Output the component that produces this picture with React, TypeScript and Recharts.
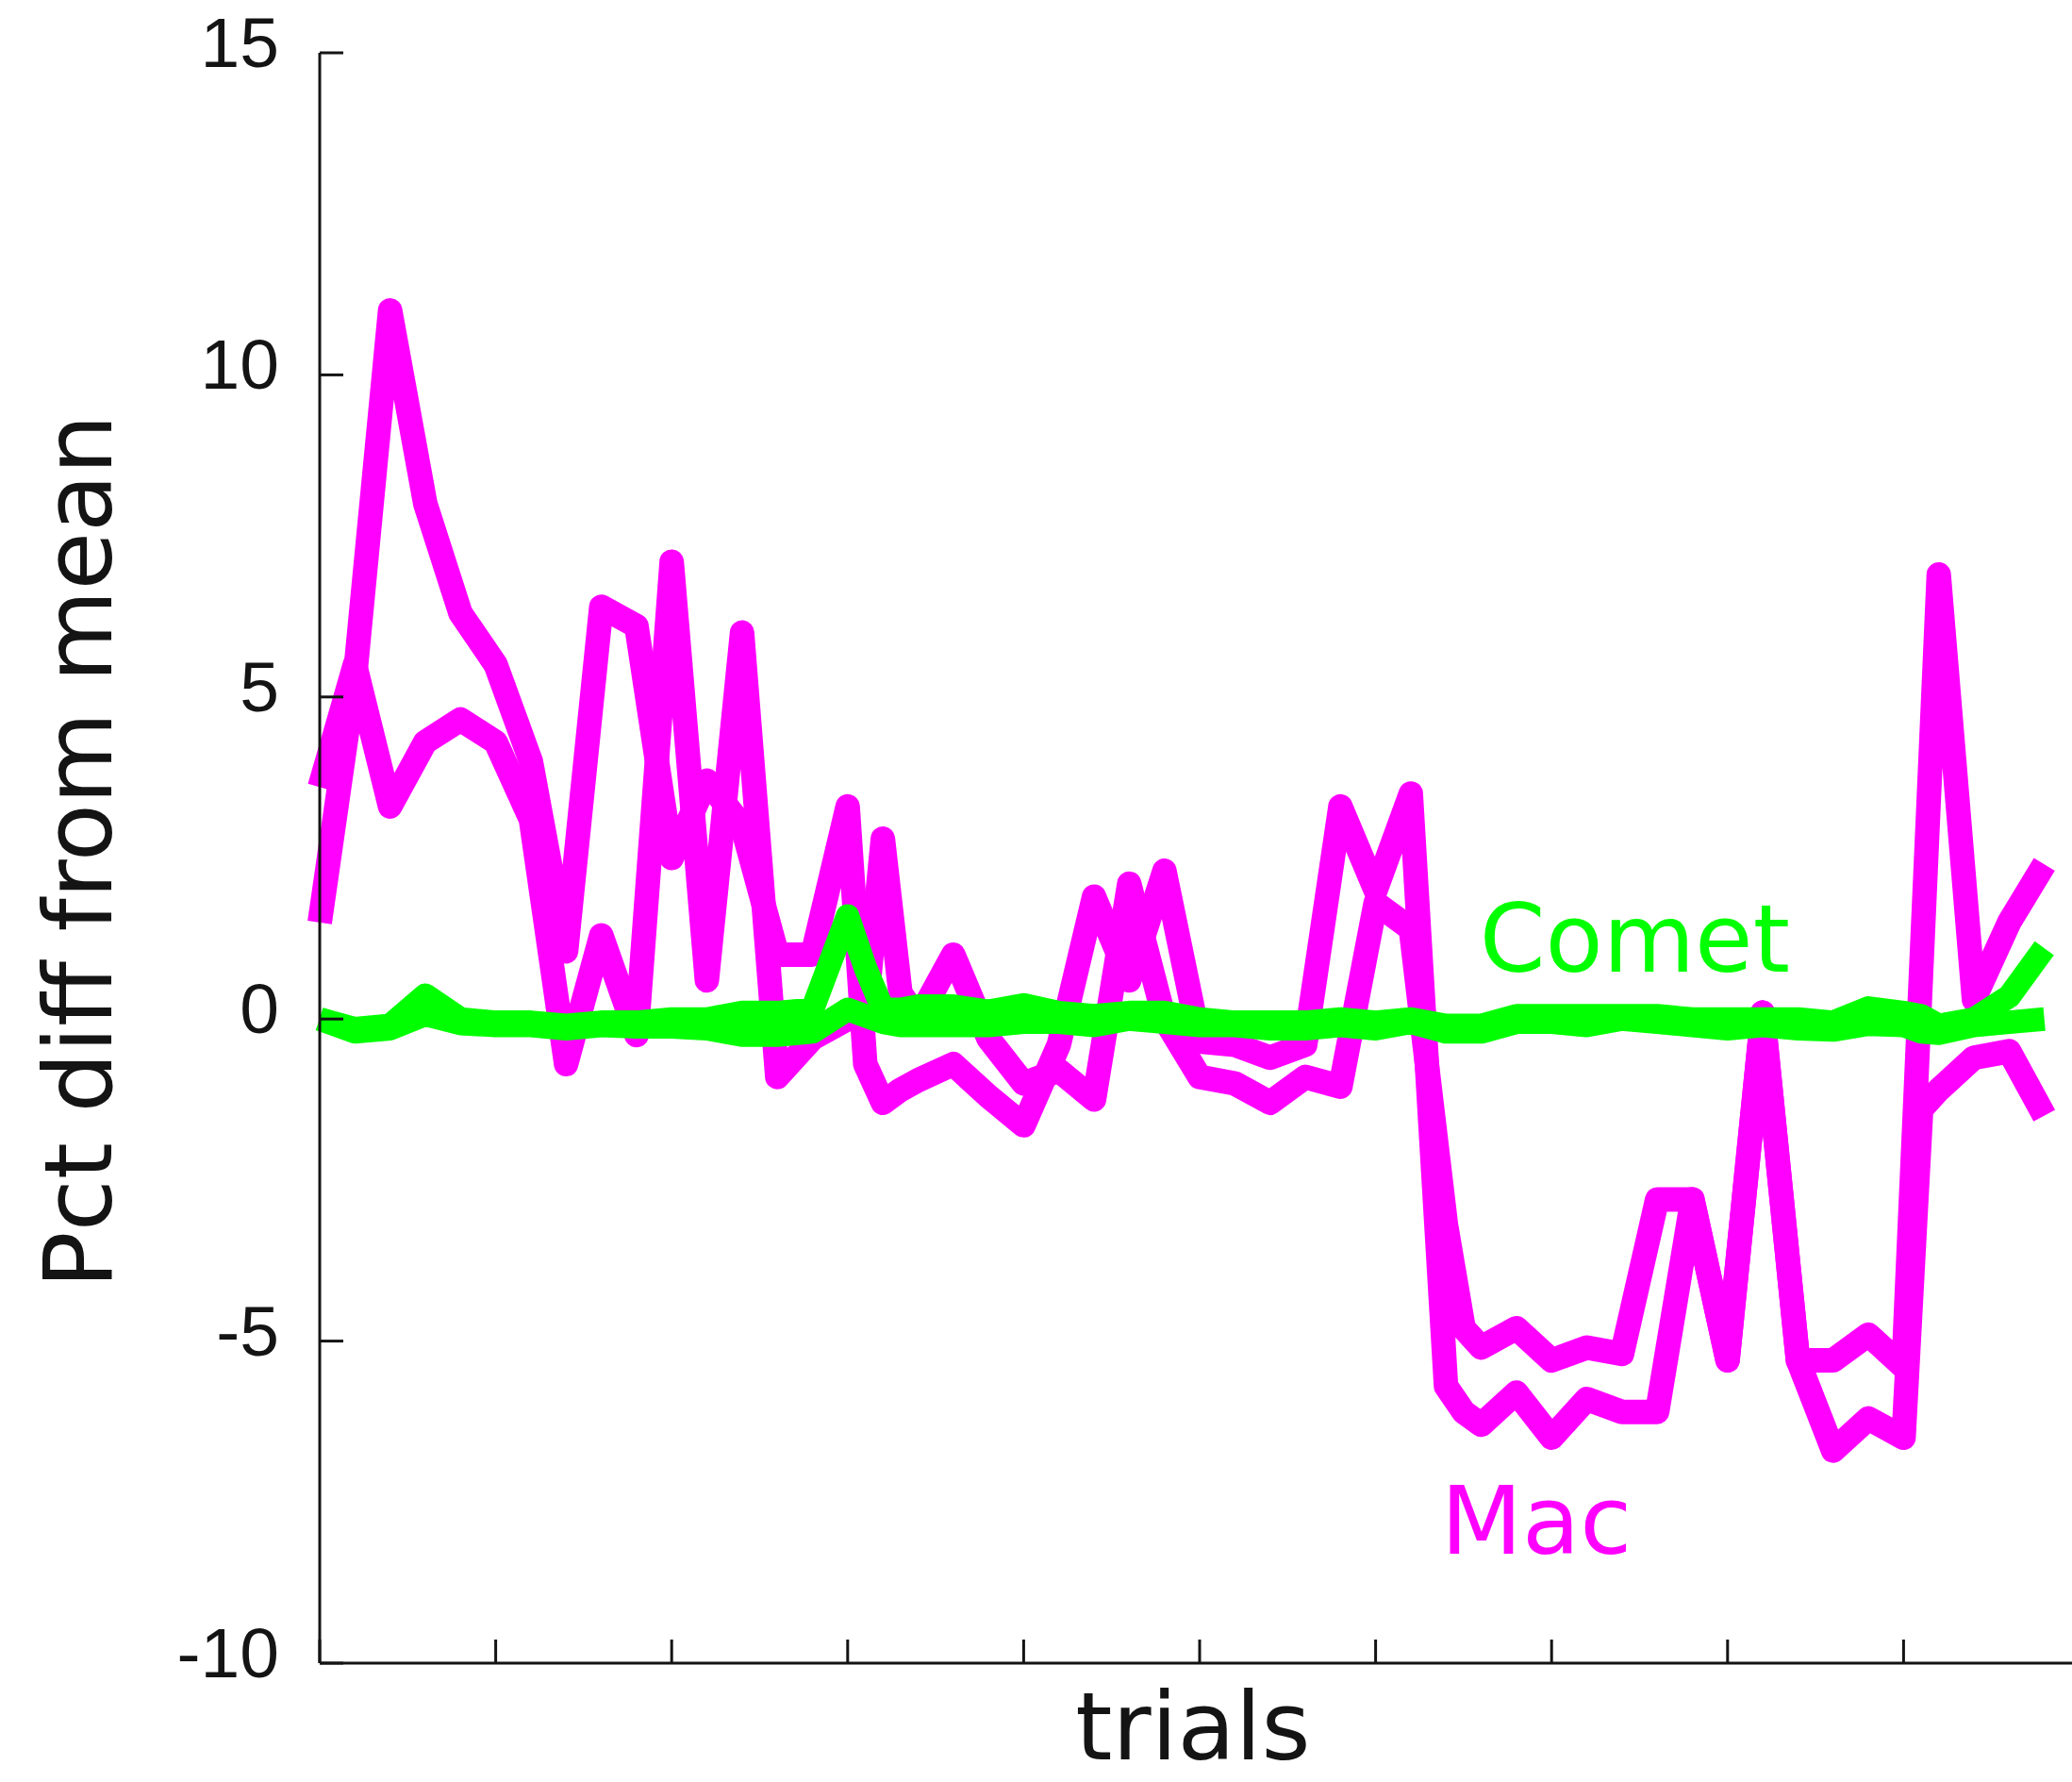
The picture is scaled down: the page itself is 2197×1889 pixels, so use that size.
import { LineChart, Line, XAxis, YAxis, ReferenceDot } from 'recharts'

// trial index (mostly every second trial, a few extra where the runs jump)
const trials = [
  0, 2, 4, 6, 8, 10, 12, 14, 16, 18,
  20, 22, 24, 26, 28, 30, 31, 32, 33, 34,
  36, 38, 40, 42, 44, 46, 48, 50, 52, 54,
  56, 58, 60, 62, 64, 65, 66, 68, 70, 72,
  74, 76, 78, 80, 82, 84, 86, 88, 90, 91,
  92, 94, 96, 98,
]

// Mac, two runs
const macRunA = [
  3.6, 5.5, 3.3, 4.3, 4.65, 4.3, 3.1, -0.7, 1.3, -0.25,
  7.1, 0.6, 6.0, -0.9, -0.3, 0.0, 0.0, 2.8, 0.4, 0.0,
  1.0, -0.3, -1.0, -0.8, -1.25, 2.1, 0.0, -0.9, -1.0, -1.3,
  -0.9, -1.05, 1.8, 1.4, -3.2, -4.8, -5.1, -4.8, -5.3, -5.1,
  -5.2, -2.8, -2.8, -5.3, 0.1, -5.3, -5.3, -4.9, -5.4, 0.75,
  6.9, 0.3, 1.5, 2.4,
]
const macRunB = [
  1.5, 5.3, 11.0, 8.0, 6.3, 5.5, 4.0, 1.05, 6.4, 6.1,
  2.5, 3.7, 3.0, 1.0, 1.0, 3.3, -0.7, -1.3, -1.1, -0.95,
  -0.7, -1.2, -1.65, -0.4, 1.9, 0.6, 2.3, -0.35, -0.4, -0.6,
  -0.4, 3.3, 2.0, 3.5, -5.7, -6.1, -6.3, -5.8, -6.5, -5.9,
  -6.1, -6.1, -2.8, -5.3, 0.1, -5.3, -6.7, -6.2, -6.5, -1.4,
  -1.1, -0.6, -0.5, -1.5,
]

// Comet, two runs
const cometRunA = [
  0.0, -0.15, -0.1, 0.37, 0.0, -0.05, -0.05, -0.1, -0.05, -0.05,
  0.0, 0.0, 0.1, 0.1, 0.15, 1.6, 0.8, 0.15, 0.15, 0.2,
  0.2, 0.12, 0.22, 0.1, 0.05, 0.1, 0.1, 0.0, -0.05, -0.05,
  -0.05, 0.0, -0.05, 0.0, -0.1, -0.1, -0.1, 0.05, 0.05, 0.05,
  0.05, 0.05, 0.0, 0.0, 0.0, 0.0, -0.05, 0.17, 0.1, 0.05,
  -0.1, 0.0, 0.35, 1.1,
]
const cometRunB = [
  0.0, -0.2, -0.15, 0.07, -0.07, -0.1, -0.1, -0.15, -0.1, -0.12,
  -0.12, -0.15, -0.25, -0.25, -0.2, 0.15, 0.05, -0.05, -0.1, -0.1,
  -0.1, -0.1, -0.05, -0.05, -0.1, 0.0, -0.05, -0.1, -0.1, -0.15,
  -0.15, -0.1, -0.15, -0.05, -0.2, -0.2, -0.2, -0.05, -0.05, -0.1,
  0.0, -0.05, -0.1, -0.15, -0.1, -0.15, -0.17, -0.08, -0.1, -0.2,
  -0.22, -0.1, -0.05, 0.0,
]

const yTicks = [-10, -5, 0, 5, 10, 15]
const xTicks = [0, 10, 20, 30, 40, 50, 60, 70, 80, 90, 100]

const MAGENTA = '#ff00ff'
const GREEN = '#00ff00'
const INK = '#141414'

const data = trials.map((t, i) => ({
  trial: t,
  macA: macRunA[i],
  macB: macRunB[i],
  cometA: cometRunA[i],
  cometB: cometRunB[i],
}))

const YTick = ({ x, y, payload }: any) => (
  <text x={x} y={y + 15} textAnchor="end" fontFamily="'Liberation Sans', Arial, sans-serif" fontSize={75} fill={INK}>
    {payload.value}
  </text>
)

// x ticks carry no labels, only the marks
const NoLabel = () => <g />

const seriesLabel = (text: string, color: string) => (props: any) => {
  const { x, y } = props.viewBox
  return (
    <text x={x} y={y} fill={color} fontFamily="'DejaVu Sans', sans-serif" fontSize={100}>
      {text}
    </text>
  )
}

const xTitle = (props: any) => {
  const { x, y } = props.viewBox
  return (
    <text x={x + 926} y={y + 102} textAnchor="middle" fontFamily="'DejaVu Sans', sans-serif" fontSize={100} fill={INK}>
      trials
    </text>
  )
}

const yTitle = (props: any) => {
  const { x, y, height } = props.viewBox
  const cx = x + 118
  const cy = y + height / 2 - 7
  return (
    <text x={cx} y={cy} transform={`rotate(-90 ${cx} ${cy})`} textAnchor="middle" fontFamily="'DejaVu Sans', sans-serif" fontSize={100} fill={INK}>
      Pct diff from mean
    </text>
  )
}

export default function App() {
  const axisStyle = { stroke: INK, strokeWidth: 3 }
  return (
    <div style={{ position: 'absolute', left: 0, top: 0, width: 2197, height: 1889, overflow: 'hidden', background: '#fff' }}>
      <LineChart width={2205} height={1889} data={data} margin={{ top: 56, right: 0, bottom: 0, left: 0 }}>
        <XAxis
          dataKey="trial" type="number" domain={[0, 100]} ticks={xTicks} interval={0}
          height={126} tick={<NoLabel />} tickSize={-25} tickLine={axisStyle} axisLine={axisStyle}
          label={xTitle}
        />
        <YAxis
          type="number" domain={[-10, 15]} ticks={yTicks} interval={0} width={339}
          tick={<YTick />} tickSize={-25} tickMargin={68} tickLine={axisStyle} axisLine={axisStyle}
          label={yTitle}
        />
        <Line type="linear" dataKey="macA" stroke={MAGENTA} strokeWidth={26} strokeLinejoin="round" dot={false} isAnimationActive={false} />
        <Line type="linear" dataKey="macB" stroke={MAGENTA} strokeWidth={26} strokeLinejoin="round" dot={false} isAnimationActive={false} />
        <Line type="linear" dataKey="cometA" stroke={GREEN} strokeWidth={25} strokeLinejoin="round" dot={false} isAnimationActive={false} />
        <Line type="linear" dataKey="cometB" stroke={GREEN} strokeWidth={25} strokeLinejoin="round" dot={false} isAnimationActive={false} />
        <ReferenceDot x={65.9} y={0.73} r={0} fill="none" stroke="none" ifOverflow="visible" label={seriesLabel('Comet', GREEN)} />
        <ReferenceDot x={63.7} y={-8.3} r={0} fill="none" stroke="none" ifOverflow="visible" label={seriesLabel('Mac', MAGENTA)} />
      </LineChart>
    </div>
  )
}
